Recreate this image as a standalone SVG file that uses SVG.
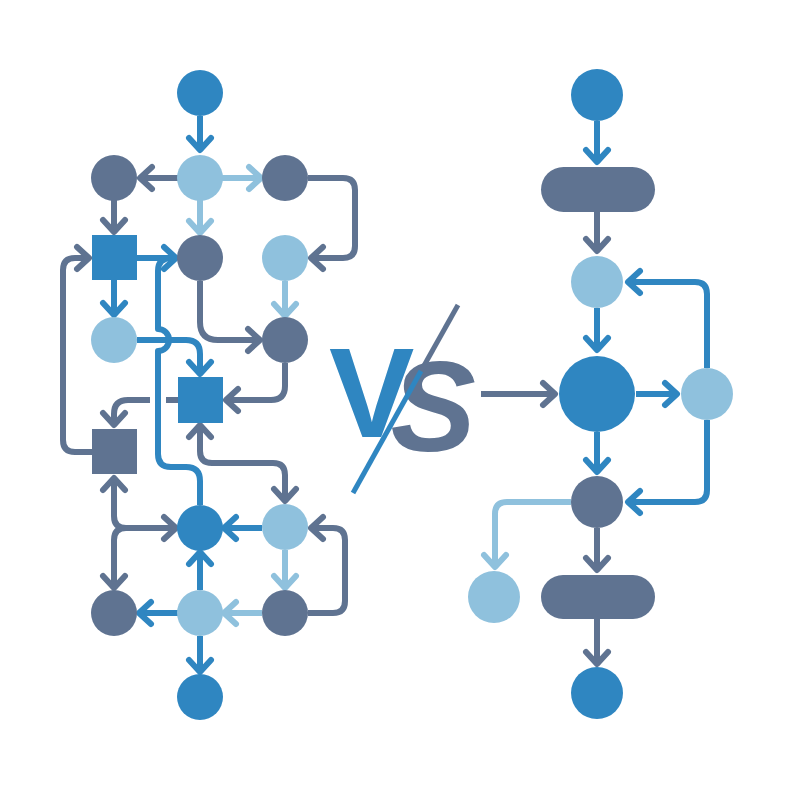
<svg xmlns="http://www.w3.org/2000/svg" width="800" height="800" viewBox="0 0 800 800">
<style>
.b{fill:#2f86c1}.s{fill:#5f7391}.l{fill:#8fc1dd}
.cb,.cs,.cl{fill:none;stroke-width:6;stroke-linejoin:round}
.cb{stroke:#2f86c1}.cs{stroke:#5f7391}.cl{stroke:#8fc1dd}
.cb.a{marker-end:url(#mb)}.cs.a{marker-end:url(#ms)}.cl.a{marker-end:url(#ml)}
.cs.d{marker-start:url(#ms)}
.vs{font-family:"Liberation Sans",Arial,sans-serif;font-weight:bold;font-size:128px}
</style>
<defs>
<marker id="mb" markerUnits="userSpaceOnUse" viewBox="-16 -16 32 32" markerWidth="32" markerHeight="32" refX="0" refY="0" orient="auto-start-reverse" overflow="visible"><path d="M-12,-11 L0,0 L-12,11" fill="none" stroke="#2f86c1" stroke-width="6" stroke-linecap="round" stroke-linejoin="round"/></marker>
<marker id="ms" markerUnits="userSpaceOnUse" viewBox="-16 -16 32 32" markerWidth="32" markerHeight="32" refX="0" refY="0" orient="auto-start-reverse" overflow="visible"><path d="M-12,-11 L0,0 L-12,11" fill="none" stroke="#5f7391" stroke-width="6" stroke-linecap="round" stroke-linejoin="round"/></marker>
<marker id="ml" markerUnits="userSpaceOnUse" viewBox="-16 -16 32 32" markerWidth="32" markerHeight="32" refX="0" refY="0" orient="auto-start-reverse" overflow="visible"><path d="M-12,-11 L0,0 L-12,11" fill="none" stroke="#8fc1dd" stroke-width="6" stroke-linecap="round" stroke-linejoin="round"/></marker>
</defs>
<rect width="800" height="800" fill="#ffffff"/>
<g id="connectors">
<path class="cb a" d="M200,116 V150"/>
<path class="cs a" d="M178,178 H140"/>
<path class="cl a" d="M222,178 H261"/>
<path class="cl a" d="M200,200 V233"/>
<path class="cs a" d="M114,200 V232"/>
<path class="cs a" d="M308,178 H343 Q355,178 355,190 V246 Q355,258 343,258 H311"/>
<path class="cb a" d="M137,258 H176"/>
<path class="cb a" d="M114,280 V315"/>
<path class="cl a" d="M285,281 V316"/>
<path class="cs a" d="M200,281 V322 Q200,340 218,340 H260"/>
<path class="cb a" d="M137,340 H186 Q200,340 200,354 V374"/>
<path class="cb" d="M200,505 V481 Q200,467 186,467 H171 Q158,467 158,454 V351 A11,11 0 0 0 158,329 V271 Q158,258 171,258 H176"/>
<path class="cs a" d="M285,363 V386 Q285,400 271,400 H226"/>
<path class="cs" d="M178,400 H166"/>
<path class="cs a" d="M150,400 H128 Q114,400 114,414 V425"/>
<path class="cs d a" d="M114,478 V516 Q114,528 126,528 H176"/>
<path class="cs a" d="M126,528 Q114,528 114,540 V588"/>
<path class="cb a" d="M262,528 H224"/>
<path class="cl a" d="M285,550 V588"/>
<path class="cs a" d="M308,613 H333 Q345,613 345,601 V540 Q345,528 333,528 H311"/>
<path class="cl a" d="M262,613 H224"/>
<path class="cb a" d="M178,613 H139"/>
<path class="cb a" d="M200,590 V552"/>
<path class="cb a" d="M200,636 V672"/>
<path class="cs d a" d="M200,425 V451 Q200,463 212,463 H273 Q285,463 285,475 V501"/>
<path class="cs a" d="M92,452 H75 Q63,452 63,440 V270 Q63,258 75,258 H89"/>
<path class="cb a" d="M597,121 V162"/>
<path class="cs a" d="M597,212 V251"/>
<path class="cb a" d="M597,308 V350"/>
<path class="cb a" d="M636,394 H677"/>
<path class="cb a" d="M707,368 V294 Q707,282 695,282 H628"/>
<path class="cb a" d="M707,420 V490 Q707,502 695,502 H628"/>
<path class="cs a" d="M481,394 H555"/>
<path class="cb a" d="M597,432 V472"/>
<path class="cl a" d="M571,502 H507 Q495,502 495,514 V567"/>
<path class="cs a" d="M597,528 V570"/>
<path class="cs a" d="M597,619 V664"/>
</g>
<g id="n-top"><circle class="b" cx="200" cy="93" r="23"/></g>
<g id="n-r2a"><circle class="s" cx="114" cy="178" r="23"/></g>
<g id="n-r2b"><circle class="l" cx="200" cy="178" r="23"/></g>
<g id="n-r2c"><circle class="s" cx="285" cy="178" r="23"/></g>
<g id="n-sq1"><rect class="b" x="92" y="235" width="45" height="45"/></g>
<g id="n-r3b"><circle class="s" cx="200" cy="258" r="23"/></g>
<g id="n-r3c"><circle class="l" cx="285" cy="258" r="23"/></g>
<g id="n-r4a"><circle class="l" cx="114" cy="340" r="23"/></g>
<g id="n-r4c"><circle class="s" cx="285" cy="340" r="23"/></g>
<g id="n-sq2"><rect class="b" x="178" y="377" width="45" height="46"/></g>
<g id="n-sq3"><rect class="s" x="92" y="429" width="45" height="45"/></g>
<g id="n-r6b"><circle class="b" cx="200" cy="528" r="23"/></g>
<g id="n-r6c"><circle class="l" cx="285" cy="527" r="23"/></g>
<g id="n-r7a"><circle class="s" cx="114" cy="613" r="23"/></g>
<g id="n-r7b"><circle class="l" cx="200" cy="613" r="23"/></g>
<g id="n-r7c"><circle class="s" cx="285" cy="613" r="23"/></g>
<g id="n-bot"><circle class="b" cx="200" cy="697" r="23"/></g>
<g id="vs">
<text class="vs" x="329" y="437"><tspan class="b">V</tspan><tspan class="s" font-style="italic" dx="-24" dy="14">S</tspan></text>
<line x1="458" y1="305" x2="421" y2="371" stroke="#5f7391" stroke-width="5"/>
<line x1="421" y1="371" x2="353" y2="493" stroke="#2f86c1" stroke-width="5"/>
</g>
<g id="r-top"><circle class="b" cx="597" cy="95" r="26"/></g>
<g id="r-pill1"><rect class="s" x="541" y="167" width="114" height="45" rx="22.5"/></g>
<g id="r-c1"><circle class="l" cx="597" cy="282" r="26"/></g>
<g id="r-big"><circle class="b" cx="597" cy="394" r="38"/></g>
<g id="r-side"><circle class="l" cx="707" cy="394" r="26"/></g>
<g id="r-dark"><circle class="s" cx="597" cy="502" r="26"/></g>
<g id="r-left"><circle class="l" cx="494" cy="597" r="26"/></g>
<g id="r-pill2"><rect class="s" x="541" y="575" width="114" height="44" rx="22"/></g>
<g id="r-bot"><circle class="b" cx="597" cy="693" r="26"/></g>
</svg>
